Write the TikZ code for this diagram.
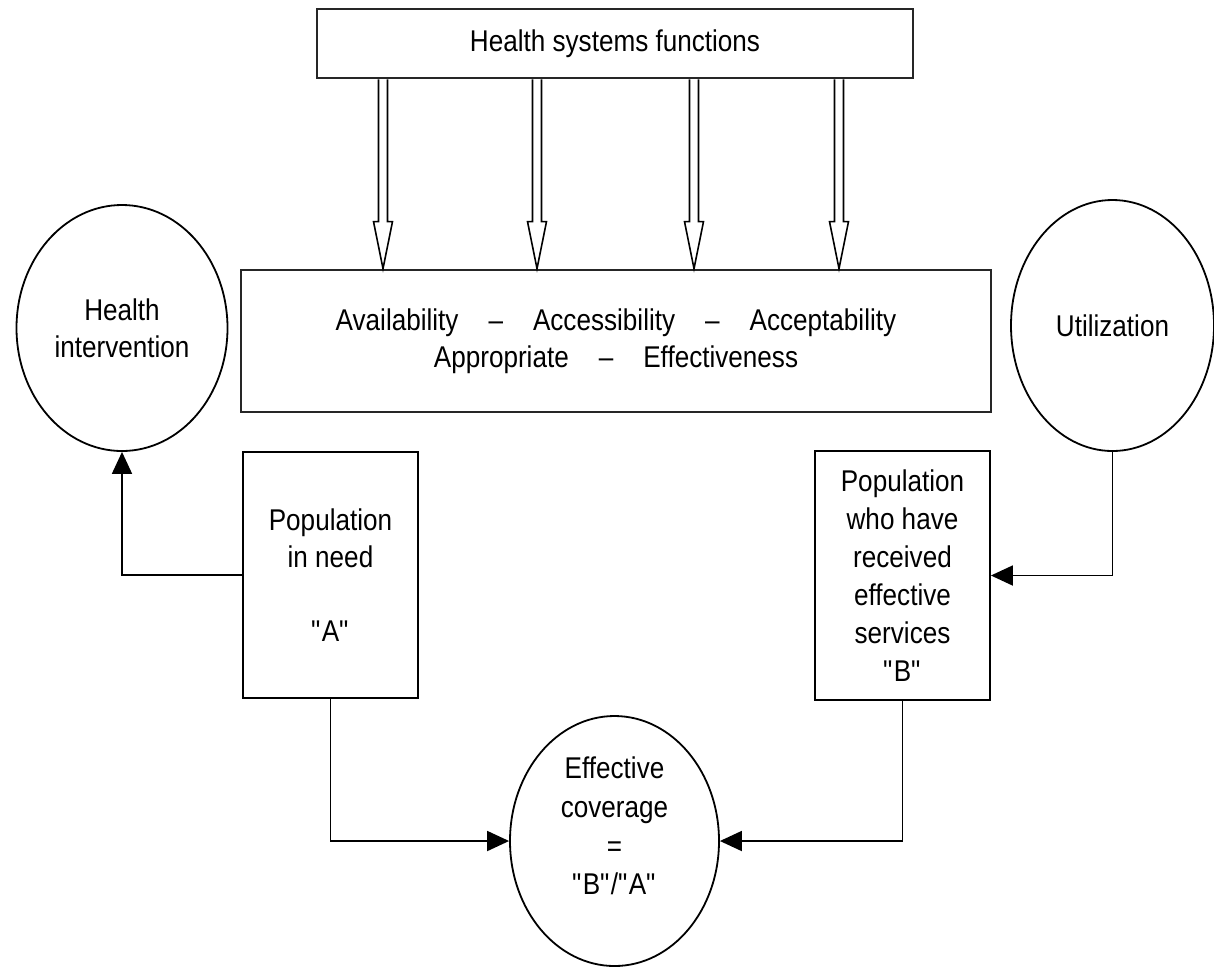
\documentclass[tikz,border=0pt]{standalone}
\usepackage{fontspec}
\setmainfont{Liberation Sans}[FakeStretch=0.87]
\usetikzlibrary{shapes.geometric,arrows.meta,calc}
\newcommand{\dq}{\textquotedbl}
\begin{document}
\begin{tikzpicture}[x=0.5pt,y=-0.5pt,
  txt/.style={font=\fontsize{15pt}{18.5pt}\selectfont, align=center},
  thickbox/.style={txt, draw=black!85, line width=1.4pt, inner sep=0pt},
  thinbox/.style={txt, draw, line width=0.9pt, inner sep=0pt},
  oval/.style={txt, ellipse, draw, line width=0.9pt, inner sep=0pt},
  conn/.style={line width=0.9pt, -{Triangle[length=11pt,width=10pt]}},
  hollow/.style={draw, line width=0.8pt, line join=miter}]
\useasboundingbox (0,0) rectangle (1214,970);

\node[thickbox, minimum width=298pt, minimum height=34.5pt] (top) at (615,43.5) {Health systems functions};
\node[thickbox, minimum width=375pt, minimum height=71pt] (mid) at (616,341)
  {Availability\hspace{15pt}--\hspace{15pt}Accessibility\hspace{15pt}--\hspace{15pt}Acceptability\\
   Appropriate\hspace{15pt}--\hspace{15pt}Effectiveness};

\node[oval, minimum width=105.5pt, minimum height=123pt] (hi) at (122,328) {Health\\intervention};
\node[oval, minimum width=101.5pt, minimum height=125.5pt] (util) at (1112.5,325.5) {Utilization};

\node[thinbox, minimum width=87.5pt, minimum height=123pt, font=\fontsize{15pt}{18.5pt}\selectfont] (popA) at (330.5,575)
  {Population\\in need\\\mbox{}\\\dq A\dq};
\node[thinbox, minimum width=87.5pt, minimum height=124.5pt, font=\fontsize{15pt}{19pt}\selectfont] (popB) at (902.5,575.5)
  {Population\\who have\\received\\effective\\services\\\dq B\dq};

\node[oval, minimum width=104.5pt, minimum height=125pt] (eff) at (614.5,841) {};
\node[txt, font=\fontsize{15pt}{19.3pt}\selectfont] (efftext) at (614.5,826) {Effective\\coverage\\=\\\dq B\dq/\dq A\dq};

\foreach \x [count=\i] in {383,537,694,839} {
  \coordinate (c\i) at (\x,0);
  \draw[hollow] ($(top.south -| c\i)+(-4.5,0)$) -- ($(mid.north -| c\i)+(-4.5,-47)$) -- ++(-5,0)
    -- (mid.north -| c\i) -- ++(9.5,-47) -- ++(-5,0) -- ($(top.south -| c\i)+(4.5,0)$);
}

\draw[conn] (popA.west) -| (hi.south);
\draw[conn] (util.south) |- (popB.east);
\draw[conn] (popA.south) |- (eff.west);
\draw[conn] (popB.south) |- (eff.east);
\end{tikzpicture}
\end{document}
